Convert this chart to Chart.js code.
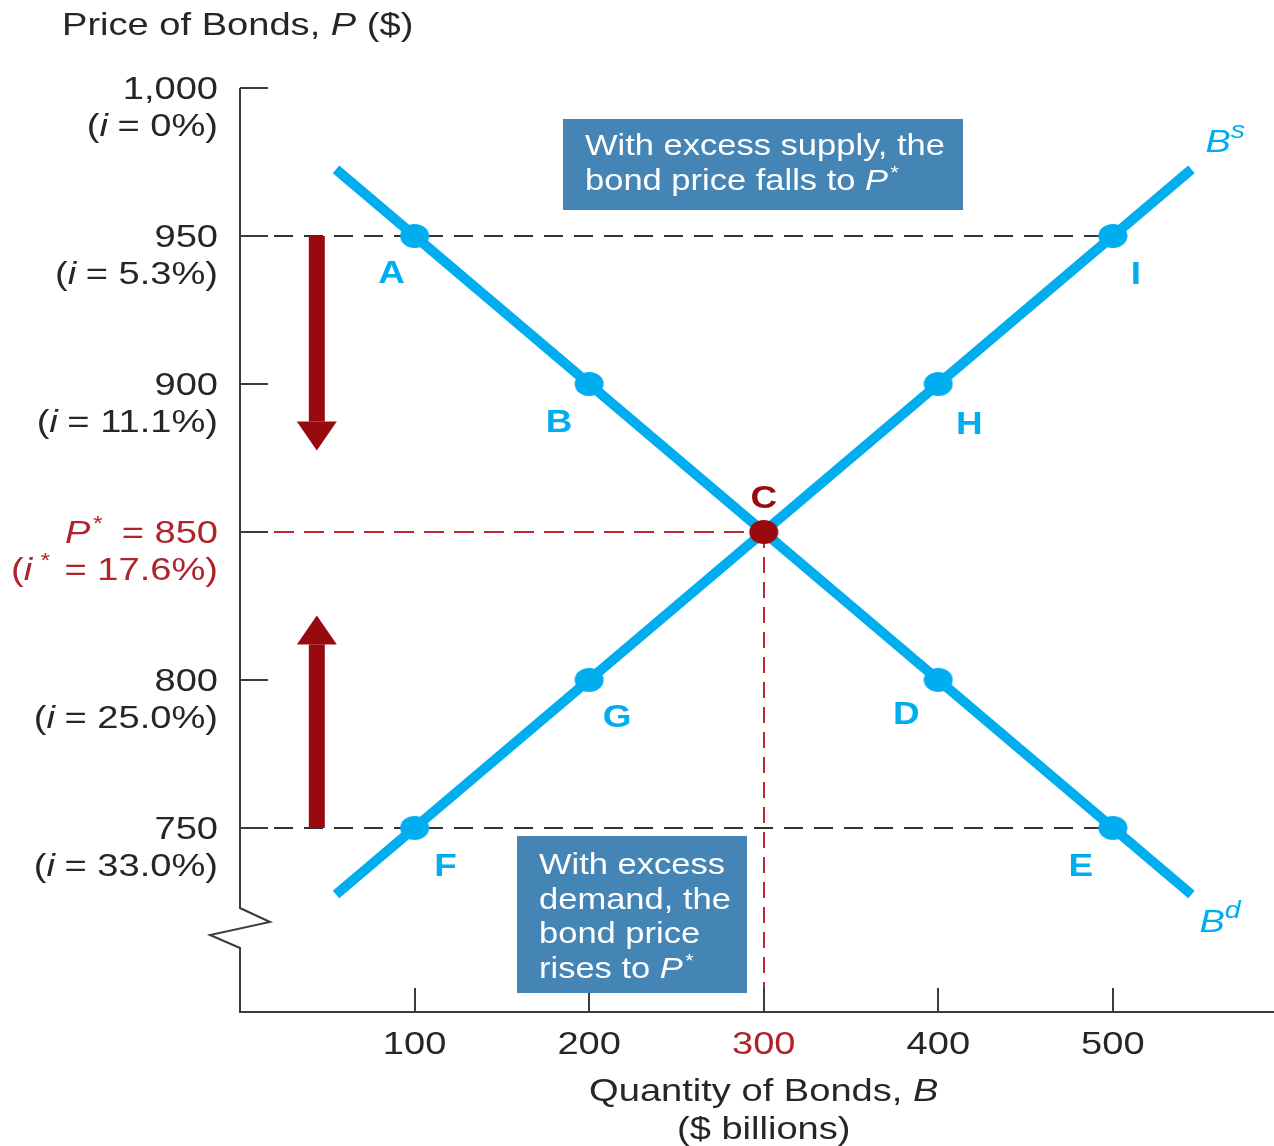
<!DOCTYPE html>
<html>
<head>
<meta charset="utf-8">
<title>Bond market equilibrium</title>
<script src="https://cdn.jsdelivr.net/npm/chart.js@4.4.1/dist/chart.umd.min.js"></script>
<style>
  html, body { margin: 0; padding: 0; background: #ffffff; }
  canvas { display: block; }
</style>
</head>
<body>
<canvas id="bondChart" width="1274" height="1146"></canvas>
<script>
// ---- data -------------------------------------------------------------
// demand curve Bd (quantity in $ billions, price in $)
const demandCurveQty   = [55, 545];
const demandCurvePrice = [972.5, 727.5];
const demandPointNames = ['A', 'B', 'D', 'E'];
const demandPointQty   = [100, 200, 400, 500];
const demandPointPrice = [950, 900, 800, 750];

// supply curve Bs
const supplyCurveQty   = [55, 545];
const supplyCurvePrice = [727.5, 972.5];
const supplyPointNames = ['F', 'G', 'H', 'I'];
const supplyPointQty   = [100, 200, 400, 500];
const supplyPointPrice = [750, 800, 900, 950];

// market equilibrium C
const equilibriumName  = 'C';
const equilibriumQty   = 300;
const equilibriumPrice = 850;

// prices where the market is out of balance (dashed guides to I and E)
const disequilibriumPrices = [950, 750];
const disequilibriumQty    = 500;

// axis ticks
const yTickValues = [1000, 950, 900, 850, 800, 750];
const yTickRates  = ['0%', '5.3%', '11.1%', '17.6%', '25.0%', '33.0%'];
const xTickValues = [100, 200, 300, 400, 500];

// ---- styling ----------------------------------------------------------
const CYAN = '#00aeef';
const DARK_RED = '#990a0f';
const LABEL_RED = '#b0232a';
const INK = '#262626';
const AXIS = '#3c3c3c';
const BOX = '#4585b6';
const FONT = '"Liberation Sans", Arial, Helvetica, sans-serif';
const SX = 1.19;   // horizontal widening of all lettering
const TEXT_SIZE = 32;
const BOX_TEXT = 29;

// marker drawn as a slightly wide ellipse
function ellipseMarker(color) {
  const c = document.createElement('canvas');
  c.width = 30; c.height = 26;
  const g = c.getContext('2d');
  g.fillStyle = color;
  g.beginPath();
  g.ellipse(15, 13, 14.5, 12, 0, 0, Math.PI * 2);
  g.fill();
  return c;
}
const cyanMarker = ellipseMarker(CYAN);
const redMarker = ellipseMarker(DARK_RED);

const zip = (xs, ys) => xs.map((x, i) => ({ x, y: ys[i] }));

// draws a row of text runs (plain / italic / bold / superscript)
function drawRuns(ctx, runs, x, y, align, color, baseSize) {
  const size = baseSize || TEXT_SIZE;
  ctx.save();
  ctx.textBaseline = 'alphabetic';
  ctx.textAlign = 'left';
  let total = 0;
  const widths = runs.map(r => {
    ctx.font = runFont(r, size);
    const w = ctx.measureText(r.t).width + (r.gap || 0);
    total += w;
    return w;
  });
  let start = x;
  if (align === 'right') start = x - total * SX;
  else if (align === 'center') start = x - total * SX / 2;
  ctx.translate(start, y);
  ctx.scale(SX, 1);
  let cx = 0;
  runs.forEach((r, i) => {
    ctx.font = runFont(r, size);
    ctx.fillStyle = r.color || color;
    ctx.fillText(r.t, cx, r.dy || 0);
    cx += widths[i];
  });
  ctx.restore();
}
function runFont(r, size) {
  return (r.it ? 'italic ' : '') + (r.b ? 'bold ' : '') + (r.size || size) + 'px ' + FONT;
}

// axes, guides, arrows, labels and callout boxes
const bondDiagram = {
  id: 'bondDiagram',
  beforeDatasetsDraw(chart) {
    const { ctx, chartArea: a, scales: { x, y } } = chart;
    const tickLen = 28;
    ctx.save();

    // dashed guides at the disequilibrium prices
    ctx.strokeStyle = '#333333';
    ctx.lineWidth = 2;
    ctx.setLineDash([19, 11]);
    disequilibriumPrices.forEach(p => {
      const py = Math.round(y.getPixelForValue(p));
      ctx.beginPath();
      ctx.moveTo(a.left + tickLen + 6, py);
      ctx.lineTo(x.getPixelForValue(disequilibriumQty), py);
      ctx.stroke();
    });

    // red guides to the equilibrium
    const ex = Math.round(x.getPixelForValue(equilibriumQty));
    const ey = Math.round(y.getPixelForValue(equilibriumPrice));
    ctx.strokeStyle = '#c0282e';
    ctx.setLineDash([20, 10]);
    ctx.beginPath();
    ctx.moveTo(a.left + tickLen + 6, ey);
    ctx.lineTo(ex, ey);
    ctx.stroke();
    ctx.setLineDash([16, 9]);
    ctx.beginPath();
    ctx.moveTo(ex, ey);
    ctx.lineTo(ex, a.bottom - 24);
    ctx.stroke();
    ctx.setLineDash([]);

    // vertical axis with a break near the bottom
    ctx.strokeStyle = AXIS;
    ctx.lineWidth = 2;
    ctx.lineJoin = 'miter';
    ctx.beginPath();
    ctx.moveTo(a.left, a.top);
    ctx.lineTo(a.left, 908);
    ctx.lineTo(a.left + 30, 922);
    ctx.lineTo(a.left - 30, 935);
    ctx.lineTo(a.left, 948);
    ctx.lineTo(a.left, a.bottom);
    ctx.lineTo(a.right, a.bottom);
    ctx.stroke();

    // y ticks
    yTickValues.forEach(v => {
      const py = Math.round(y.getPixelForValue(v));
      ctx.beginPath();
      ctx.moveTo(a.left, py);
      ctx.lineTo(a.left + tickLen, py);
      ctx.stroke();
    });
    // x ticks (pointing up into the plot)
    xTickValues.forEach(v => {
      const px = Math.round(x.getPixelForValue(v));
      ctx.beginPath();
      ctx.moveTo(px, a.bottom);
      ctx.lineTo(px, a.bottom - 24);
      ctx.stroke();
    });

    // adjustment arrows
    const ax = x.getPixelForValue(44);
    const drawArrow = (fromP, toP) => {
      const y0 = y.getPixelForValue(fromP);
      const tip = y.getPixelForValue(toP);
      const dir = tip > y0 ? 1 : -1;
      const base = tip - dir * 29;
      ctx.fillStyle = DARK_RED;
      ctx.fillRect(ax - 8, Math.min(y0, base), 16, Math.abs(base - y0));
      ctx.beginPath();
      ctx.moveTo(ax - 20, base);
      ctx.lineTo(ax + 20, base);
      ctx.lineTo(ax, tip);
      ctx.closePath();
      ctx.fill();
    };
    drawArrow(950, 877.5);
    drawArrow(750, 821.8);

    ctx.restore();
  },
  afterDatasetsDraw(chart) {
    const { ctx, chartArea: a, scales: { x, y } } = chart;
    ctx.save();

    // title of the price axis
    drawRuns(ctx, [{ t: 'Price of Bonds, ' }, { t: 'P', it: true }, { t: ' ($)' }], 62, 35, 'left', INK);

    // y tick labels with their interest rates
    yTickValues.forEach((v, i) => {
      const py = y.getPixelForValue(v);
      const isEq = v === equilibriumPrice;
      const rate = yTickRates[i];
      if (isEq) {
        drawRuns(ctx, [{ t: 'P', it: true, gap: 2 }, { t: '*', size: 21, dy: -13, gap: 16 }, { t: '= ' + v }], 218, py + 11, 'right', LABEL_RED);
        drawRuns(ctx, [{ t: '(' }, { t: 'i', it: true, gap: 7 }, { t: '*', size: 21, dy: -13, gap: 12 }, { t: '= ' + rate + ')' }], 218, py + 48, 'right', LABEL_RED);
      } else {
        const txt = v >= 1000 ? v.toLocaleString('en-US') : String(v);
        drawRuns(ctx, [{ t: txt }], 218, py + 11, 'right', INK);
        drawRuns(ctx, [{ t: '(' }, { t: 'i', it: true, gap: 8 }, { t: '= ' + rate + ')' }], 218, py + 48, 'right', INK);
      }
    });

    // x tick labels and axis title
    xTickValues.forEach(v => {
      const px = x.getPixelForValue(v);
      drawRuns(ctx, [{ t: String(v) }], px, a.bottom + 42, 'center', v === equilibriumQty ? LABEL_RED : INK);
    });
    const mid = x.getPixelForValue(equilibriumQty);
    drawRuns(ctx, [{ t: 'Quantity of Bonds, ' }, { t: 'B', it: true }], mid, a.bottom + 89, 'center', INK);
    drawRuns(ctx, [{ t: '($ billions)' }], mid, a.bottom + 127, 'center', INK);

    // point names
    const nameOffsets = {
      A: [-23, 36], B: [-30, 37], D: [-32, 34], E: [-32, 38],
      F: [31, 38], G: [28, 37], H: [31, 39], I: [23, 37], C: [0, -34]
    };
    const putName = (name, q, p, color) => {
      const [dx, dy] = nameOffsets[name];
      ctx.save();
      ctx.font = 'bold 31px ' + FONT;
      ctx.fillStyle = color;
      ctx.textAlign = 'center';
      ctx.textBaseline = 'middle';
      const px = x.getPixelForValue(q) + dx;
      const py = y.getPixelForValue(p) + dy;
      ctx.translate(px, py);
      ctx.scale(SX, 1);
      ctx.fillText(name, 0, 2);
      ctx.restore();
    };
    demandPointNames.forEach((n, i) => putName(n, demandPointQty[i], demandPointPrice[i], CYAN));
    supplyPointNames.forEach((n, i) => putName(n, supplyPointQty[i], supplyPointPrice[i], CYAN));
    putName(equilibriumName, equilibriumQty, equilibriumPrice, DARK_RED);

    // curve names
    const sEnd = supplyCurveQty.length - 1;
    drawRuns(ctx, [{ t: 'B', it: true }, { t: 's', it: true, size: 24, dy: -14 }],
      x.getPixelForValue(supplyCurveQty[sEnd]) + 14, y.getPixelForValue(supplyCurvePrice[sEnd]) - 17, 'left', CYAN);
    const dEnd = demandCurveQty.length - 1;
    drawRuns(ctx, [{ t: 'B', it: true }, { t: 'd', it: true, size: 24, dy: -14 }],
      x.getPixelForValue(demandCurveQty[dEnd]) + 8, y.getPixelForValue(demandCurvePrice[dEnd]) + 37, 'left', CYAN);

    // callout boxes
    ctx.fillStyle = BOX;
    ctx.fillRect(563, 119, 400, 91);
    drawRuns(ctx, [{ t: 'With excess supply, the' }], 585, 155, 'left', '#ffffff', BOX_TEXT);
    drawRuns(ctx, [{ t: 'bond price falls to ' }, { t: 'P', it: true, gap: 2 }, { t: '*', size: 18, dy: -11 }], 585, 190, 'left', '#ffffff', BOX_TEXT);

    ctx.fillStyle = BOX;
    ctx.fillRect(517, 836, 230, 157);
    const lower = ['With excess', 'demand, the', 'bond price'];
    lower.forEach((t, i) => drawRuns(ctx, [{ t }], 539, 874 + i * 34.6, 'left', '#ffffff', BOX_TEXT));
    drawRuns(ctx, [{ t: 'rises to ' }, { t: 'P', it: true, gap: 2 }, { t: '*', size: 18, dy: -11 }], 539, 874 + 3 * 34.6, 'left', '#ffffff', BOX_TEXT);

    ctx.restore();
  }
};

new Chart(document.getElementById('bondChart'), {
  type: 'scatter',
  data: {
    datasets: [
      {
        label: 'Bd',
        data: zip(demandCurveQty, demandCurvePrice),
        showLine: true, borderColor: CYAN, borderWidth: 10, borderCapStyle: 'butt',
        pointRadius: 0, order: 3
      },
      {
        label: 'Bs',
        data: zip(supplyCurveQty, supplyCurvePrice),
        showLine: true, borderColor: CYAN, borderWidth: 10, borderCapStyle: 'butt',
        pointRadius: 0, order: 3
      },
      {
        label: 'demand points',
        data: zip(demandPointQty, demandPointPrice),
        pointStyle: cyanMarker, pointRadius: 14, order: 2
      },
      {
        label: 'supply points',
        data: zip(supplyPointQty, supplyPointPrice),
        pointStyle: cyanMarker, pointRadius: 14, order: 2
      },
      {
        label: 'equilibrium',
        data: [{ x: equilibriumQty, y: equilibriumPrice }],
        pointStyle: redMarker, pointRadius: 14, order: 1
      }
    ]
  },
  options: {
    responsive: false,
    animation: false,
    layout: { autoPadding: false, padding: { left: 240, right: 0, top: 88, bottom: 134 } },
    scales: {
      x: { type: 'linear', min: 0, max: 592.3, display: false },
      y: { type: 'linear', min: 687.8, max: 1000, display: false }
    },
    plugins: {
      legend: { display: false },
      tooltip: { enabled: false }
    },
    elements: { line: { tension: 0 } },
    clip: false
  },
  plugins: [bondDiagram]
});
</script>
</body>
</html>
